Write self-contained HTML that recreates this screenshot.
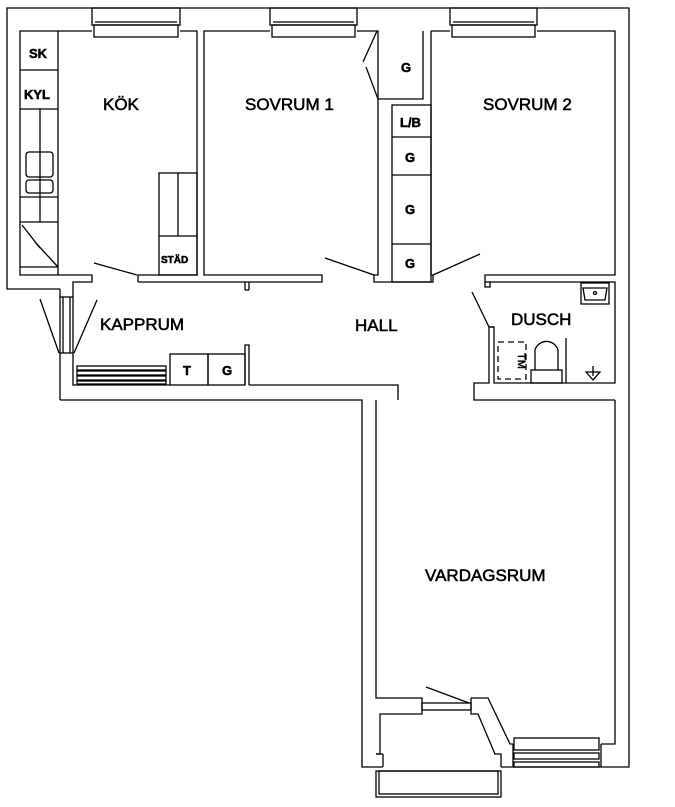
<!DOCTYPE html>
<html><head><meta charset="utf-8"><style>
html,body{margin:0;padding:0;background:#fff;}
svg{display:block;}
text{font-family:"Liberation Sans",Arial,sans-serif;fill:#000;stroke:#000;stroke-width:0.55;}
</style></head><body>
<svg width="675" height="807" viewBox="0 0 675 807" xmlns="http://www.w3.org/2000/svg">
<g fill="none" stroke="#000" stroke-width="1.3">
<polyline points="60,289 7,289 7,8 629,8 629,767 501,767"/>
<line x1="60" y1="289" x2="60" y2="297"/>
<line x1="60" y1="353" x2="60" y2="400"/>
<polyline points="60,400 362,400 362,767 383,767"/>
<polyline points="92,31 20,31 20,275 92,275 92,282 73,282 73,297"/>
<polyline points="180,31 197,31 197,275 159,275"/>
<polyline points="138,282 138,275 159,275"/>
<polyline points="270,31 204,31 204,275 322,275 322,282 138,282"/>
<polyline points="357,31 378,31 378,99"/>
<line x1="245" y1="282" x2="245" y2="290"/><line x1="249" y1="282" x2="249" y2="290"/><line x1="245" y1="290" x2="249" y2="290"/>
<polyline points="378,99 378,275 374,275 374,282 431,282"/>
<polyline points="378,99 423,99 423,31"/>
<line x1="431" y1="31" x2="431" y2="275"/>
<polyline points="431,275 433,275 433,282 431,282"/>
<rect x="392" y="105" width="39" height="177"/>
<line x1="392" y1="137" x2="431" y2="137"/>
<line x1="392" y1="175" x2="431" y2="175"/>
<line x1="392" y1="244" x2="431" y2="244"/>
<polyline points="537,31 615,31 615,275 485,275 485,282 494,282"/>
<line x1="431" y1="31" x2="450" y2="31"/>
<polyline points="485,282 485,287 490,287 490,282"/>
<polyline points="494,282 615,282 615,383 494,383 494,327 489,327 489,383 474,383 474,400 615,400"/>
<line x1="489" y1="327" x2="494" y2="327"/>
<polyline points="73,353 73,385 170,385"/>
<polyline points="249,385 398,385 398,400"/>
<polyline points="245,385 245,345 249,345 249,385"/>
<rect x="170" y="354" width="38" height="31"/>
<rect x="208" y="354" width="37" height="31"/>
<rect x="77" y="366" width="89" height="4"/><rect x="77" y="371" width="89" height="4"/><rect x="77" y="376" width="89" height="4"/><rect x="77" y="381" width="89" height="3"/>
<rect x="60" y="297" width="13" height="56"/><line x1="63" y1="297" x2="63" y2="353"/><line x1="70" y1="297" x2="70" y2="353"/>
<polyline points="376,400 376,698 422,698 422,714 380,714 380,754 376,754"/>
<polyline points="615,400 615,744 601,744"/>
<line x1="376" y1="754" x2="383" y2="754"/><line x1="383" y1="754" x2="383" y2="767"/>
<rect x="376" y="771" width="125" height="26"/>
<rect x="379" y="771" width="119" height="23"/>
<polyline points="501,767 501,754 494,754"/>
<polyline points="471,698 488,698 510,744 513,744"/>
<polyline points="471,698 471,714 478,714 495,754"/>
<rect x="422" y="703" width="49" height="7"/>
<rect x="514" y="738" width="85" height="12"/>
<rect x="514" y="753" width="85" height="6"/>
<rect x="514" y="762" width="85" height="5"/>
<line x1="513" y1="744" x2="513" y2="767"/><line x1="601" y1="744" x2="601" y2="767"/>
<rect x="92" y="8" width="88" height="17"/><rect x="94" y="25" width="84" height="12"/><line x1="95" y1="22" x2="177" y2="22"/>
<rect x="270" y="8" width="87" height="17"/><rect x="272" y="25" width="83" height="12"/><line x1="273" y1="22" x2="354" y2="22"/>
<rect x="450" y="8" width="87" height="17"/><rect x="452" y="25" width="83" height="12"/><line x1="453" y1="22" x2="534" y2="22"/>
<line x1="58" y1="31" x2="58" y2="275"/>
<line x1="20" y1="70" x2="58" y2="70"/><line x1="20" y1="109" x2="58" y2="109"/>
<line x1="40" y1="109" x2="40" y2="222"/>
<line x1="20" y1="197" x2="58" y2="197"/><line x1="20" y1="222" x2="58" y2="222"/><line x1="20" y1="267" x2="58" y2="267"/>
<rect x="26" y="152" width="27" height="25" rx="3"/><rect x="26" y="180" width="27" height="13" rx="3"/>
<polyline points="22,225 40,248 35,242 58,267"/>
<rect x="159" y="173" width="38" height="102"/><line x1="159" y1="236" x2="197" y2="236"/><line x1="178" y1="173" x2="178" y2="236"/>
<line x1="94" y1="263" x2="137" y2="275"/>
<line x1="325" y1="258" x2="374" y2="275"/>
<line x1="480" y1="254" x2="433" y2="275"/>
<line x1="377" y1="31" x2="363" y2="62"/><line x1="366" y1="67" x2="378" y2="99"/>
<line x1="472" y1="292" x2="489" y2="327"/>
<line x1="40" y1="299" x2="59" y2="353"/><line x1="97" y1="300" x2="74" y2="353"/>
<line x1="426" y1="687" x2="469" y2="703"/>
<path d="M581,283 h28 v21 h-28 z M583,288 h24 l-2,12 h-20 z"/>
<circle cx="595" cy="293" r="1.5"/>
<rect x="498" y="342" width="28" height="37" stroke-dasharray="6,4"/>
<rect x="531" y="370" width="31" height="13"/>
<path d="M535,370 v-20 a12,12 0 0 1 23,0 v20"/>
<line x1="566" y1="338" x2="566" y2="383"/>
<path d="M586,372 l7,8 l7,-8 z"/><line x1="593" y1="366" x2="593" y2="376"/>
</g>
<g font-size="17">
<text x="103" y="110">KÖK</text>
<text x="245" y="110">SOVRUM 1</text>
<text x="483" y="110">SOVRUM 2</text>
<text x="100" y="330">KAPPRUM</text>
<text x="355" y="331">HALL</text>
<text x="511" y="325">DUSCH</text>
<text x="425" y="581">VARDAGSRUM</text>
</g>
<g font-size="13" font-weight="bold">
<text x="29" y="58">SK</text>
<text x="24" y="99">KYL</text>
<text x="401" y="72">G</text>
<text x="400" y="127">L/B</text>
<text x="405" y="162">G</text>
<text x="405" y="214">G</text>
<text x="405" y="268">G</text>
<text x="183" y="375">T</text>
<text x="222" y="375">G</text>
</g>
<text x="161" y="263" font-size="10" font-weight="bold">STÄD</text>
<text x="505" y="354" font-size="11" transform="rotate(90 512 360)">TM</text>
</svg>
</body></html>
